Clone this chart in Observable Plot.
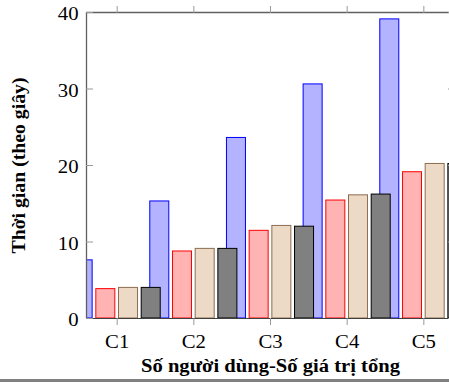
<!DOCTYPE html>
<html><head><meta charset="utf-8">
<script src="https://cdn.jsdelivr.net/npm/d3@7"></script>
<script src="https://cdn.jsdelivr.net/npm/@observablehq/plot@0.6"></script>
<style>
body{margin:0;background:#fff;}
#wrap{width:449px;height:382px;overflow:hidden;position:relative;}
#chart svg{max-width:none !important;width:455px !important;height:379px !important;display:block;}
#band{position:absolute;left:0;top:379px;width:449px;height:3px;background:#808080;}
</style></head><body><div id="wrap"><div id="chart"></div><div id="band"></div></div>
<script>
const categories = ["C1","C2","C3","C4","C5"];
const seriesNames = ["S1","S2","S3","S4"];
const valuesS1 = [7.6, 15.3, 23.6, 30.6, 39.1];
const valuesS2 = [3.84, 8.76, 11.46, 15.42, 19.12];
const valuesS3 = [4.0, 9.1, 12.1, 16.1, 20.2];
const valuesS4 = [4.0, 9.1, 12.0, 16.2, 20.2];
const yTicks = [0, 10, 20, 30, 40];
const xLabel = "Số người dùng-Số giá trị tổng";
const yLabel = "Thời gian (theo giây)";

const allValues = [valuesS1, valuesS2, valuesS3, valuesS4];
const offsets = [-0.444, -0.148, 0.148, 0.444];
const halfW = 0.124;
const fills = ["#b3b3ff", "#ffb3b3", "#ecd9c6", "#808080"];
const strokes = ["#0000ff", "#ff0000", "#8c6e50", "#000000"];
const catIdx = categories.map((c, i) => i + 1);

const barMarks = seriesNames.map((s, si) => {
  const rows = categories.map((c, ci) => ({series: s, cat: c, idx: ci + 1, value: allValues[si][ci]}));
  return Plot.rectY(rows, {
    x1: d => d.idx + offsets[si] - halfW,
    x2: d => d.idx + offsets[si] + halfW,
    y1: 0, y2: "value",
    fill: fills[si], stroke: strokes[si], strokeWidth: 1, clip: true
  });
});

const font = "'Liberation Serif', 'Times New Roman', serif";
const chart = Plot.plot({
  width: 455, height: 379,
  marginLeft: 86, marginRight: 1, marginTop: 12, marginBottom: 61,
  style: {fontFamily: font, fontSize: "18.5px", background: "#fff", maxWidth: "none"},
  x: {domain: [0.6, 5.4], axis: null},
  y: {domain: [0, 40], axis: null},
  marks: [
    Plot.ruleY([0], {stroke: "#404040", strokeWidth: 1}),
    ...barMarks,
    Plot.ruleX([0.6], {stroke: "#606060", strokeWidth: 1.3}),
    Plot.ruleX([5.4], {stroke: "#606060", strokeWidth: 1.3}),
    Plot.ruleY([40], {stroke: "#606060", strokeWidth: 1.3}),
    Plot.axisY(yTicks, {anchor: "left", tickSize: -7, text: null, stroke: "#999", label: null}),
    Plot.axisY(yTicks, {anchor: "right", tickSize: -7, text: null, stroke: "#999", label: null}),
    Plot.axisY(yTicks, {anchor: "left", tickSize: 0, tickPadding: 8, dy: 2, fontSize: 18.5, fill: "#000", label: null}),
    Plot.axisX(catIdx, {anchor: "bottom", tickSize: 7, tickPadding: 9, stroke: "#999", fill: "#000", fontSize: 18.5, tickFormat: i => categories[i - 1], label: null}),
    Plot.axisX(catIdx, {anchor: "top", tickSize: 7, text: null, stroke: "#999", label: null}),
    Plot.text([xLabel], {frameAnchor: "bottom", lineAnchor: "middle", dy: 48, fontWeight: "bold", fontSize: 18.5, fill: "#000"}),
    Plot.text([yLabel], {frameAnchor: "left", textAnchor: "middle", lineAnchor: "middle", dx: -67, rotate: -90, fontWeight: "bold", fontSize: 18.5, fill: "#000"})
  ]
});
document.getElementById("chart").appendChild(chart);

// stretch glyphs horizontally like the reference rendering
chart.querySelectorAll("text").forEach(t => {
  const txt = t.textContent;
  let len;
  if (txt === xLabel) len = 259;
  else if (txt === yLabel) len = 176;
  else len = t.getComputedTextLength() * 1.12;
  t.setAttribute("textLength", len);
  t.setAttribute("lengthAdjust", "spacingAndGlyphs");
});
</script></body></html>
